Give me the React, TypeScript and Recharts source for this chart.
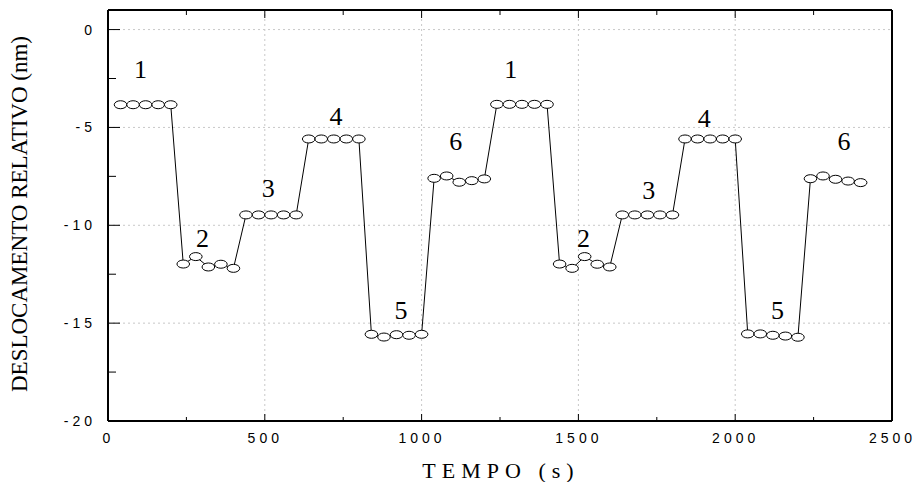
import { ComposedChart, Line, Scatter, XAxis, YAxis, ReferenceLine } from "recharts"

// time (s) of each reading
const times = [
  40, 80, 120, 160, 200, 240, 280, 320, 360, 400,
  440, 480, 520, 560, 600, 640, 680, 720, 760, 800,
  840, 880, 920, 960, 1000, 1040, 1080, 1120, 1160, 1200,
  1240, 1280, 1320, 1360, 1400, 1440, 1480, 1520, 1560, 1600,
  1640, 1680, 1720, 1760, 1800, 1840, 1880, 1920, 1960, 2000,
  2040, 2080, 2120, 2160, 2200, 2240, 2280, 2320, 2360, 2400,
]

// relative displacement (nm)
const displacement = [
  -3.84, -3.84, -3.84, -3.84, -3.84,
  -11.98, -11.6, -12.13, -11.99, -12.2,
  -9.47, -9.47, -9.47, -9.47, -9.47,
  -5.59, -5.59, -5.59, -5.59, -5.59,
  -15.57, -15.71, -15.59, -15.62, -15.57,
  -7.6, -7.48, -7.8, -7.72, -7.63,
  -3.82, -3.82, -3.82, -3.82, -3.82,
  -11.98, -12.2, -11.6, -11.99, -12.13,
  -9.47, -9.47, -9.47, -9.47, -9.47,
  -5.59, -5.59, -5.59, -5.59, -5.59,
  -15.55, -15.55, -15.62, -15.66, -15.72,
  -7.62, -7.48, -7.65, -7.74, -7.82,
]

// step number annotations
const stepText = ["1", "2", "3", "4", "5", "6", "1", "2", "3", "4", "5", "6"]
const stepX = [104, 301, 511, 727, 934, 1109, 1284, 1516, 1724, 1901, 2135, 2347]
const stepY = [-2.06, -10.66, -8.11, -4.45, -14.33, -5.73, -2.06, -10.66, -8.2, -4.53, -14.33, -5.73]

const xTicks = [0, 250, 500, 750, 1000, 1250, 1500, 1750, 2000, 2250, 2500]
const xMajor = [0, 500, 1000, 1500, 2000, 2500]
const yTicks = [-20, -17.5, -15, -12.5, -10, -7.5, -5, -2.5, 0]
const yMajor = [-20, -15, -10, -5, 0]
const xGrid = [500, 1000, 1500, 2000]
const yGrid = [-15, -10, -5, 0]

const data = times.map((t, i) => ({ t, d: displacement[i] }))
const steps = stepText.map((s, i) => ({ t: stepX[i], d: stepY[i], s }))

const SERIF = '"Liberation Serif", "Times New Roman", serif'
const SANS = '"Liberation Sans", Arial, sans-serif'
const tickFont = { fontFamily: SANS, fontSize: 14, letterSpacing: 4 }

const LeftTick = (p: any) => {
  const major = yMajor.includes(p.payload.value)
  const ax = p.x + 16
  return (
    <g>
      <line x1={ax} x2={ax + (major ? 12 : 8)} y1={p.y} y2={p.y} stroke="#000" />
      {major && (
        <text x={p.x + 4} y={p.y} textAnchor="end" dominantBaseline="central" fill="#000" style={tickFont}>
          {p.payload.value}
        </text>
      )}
    </g>
  )
}

const RightTick = (p: any) => {
  const major = yMajor.includes(p.payload.value)
  return <line x1={p.x} x2={p.x - (major ? 12 : 7)} y1={p.y} y2={p.y} stroke="#000" />
}

const BottomTick = (p: any) => {
  const major = xMajor.includes(p.payload.value)
  const ay = p.y - 12
  return (
    <g>
      <line x1={p.x} x2={p.x} y1={ay} y2={ay - (major ? 7 : 4)} stroke="#000" />
      {major && (
        <text x={p.x + 0.5} y={p.y} dy="0.71em" textAnchor="middle" fill="#000" style={tickFont}>
          {p.payload.value}
        </text>
      )}
    </g>
  )
}

const TopTick = (p: any) => {
  const major = xMajor.includes(p.payload.value)
  return <line x1={p.x} x2={p.x} y1={p.y} y2={p.y + (major ? 8 : 5)} stroke="#000" />
}

const Oval = (p: any) => (
  <ellipse key={p.index} cx={p.cx} cy={p.cy} rx={6.3} ry={4} fill="#fff" stroke="#000" strokeWidth={1} />
)

const StepLabel = (p: any) => (
  <text
    x={p.cx}
    y={p.cy}
    textAnchor="middle"
    dominantBaseline="central"
    fill="#000"
    style={{ fontFamily: SERIF, fontSize: 26 }}
  >
    {p.payload.s}
  </text>
)

export default function App() {
  return (
    <div style={{ position: "absolute", left: 0, top: 0, width: 915, height: 482, background: "#fff" }}>
      <ComposedChart width={915} height={482} data={data} margin={{ top: 5, right: 13, bottom: 11, left: 8 }}>
        {xGrid.map((v) => (
          <ReferenceLine key={"x" + v} x={v} stroke="#c8c8c8" strokeDasharray="2 3" />
        ))}
        {yGrid.map((v) => (
          <ReferenceLine key={"y" + v} y={v} stroke="#c8c8c8" strokeDasharray="2 3" />
        ))}
        <XAxis
          dataKey="t"
          type="number"
          domain={[0, 2500]}
          ticks={xTicks}
          interval={0}
          height={50}
          tickSize={0}
          tickMargin={12}
          tickLine={false}
          tick={BottomTick}
          axisLine={{ stroke: "#000", strokeWidth: 2 }}
          label={{
            content: () => (
              <text
                x={501}
                y={470}
                textAnchor="middle"
                dominantBaseline="central"
                fill="#000"
                style={{ fontFamily: SERIF, fontSize: 22, letterSpacing: 6 }}
              >
                TEMPO (s)
              </text>
            ),
          }}
        />
        <XAxis
          xAxisId="top"
          orientation="top"
          dataKey="t"
          type="number"
          domain={[0, 2500]}
          ticks={xTicks}
          interval={0}
          height={5}
          tickSize={0}
          tickMargin={0}
          tickLine={false}
          tick={TopTick}
          axisLine={{ stroke: "#000", strokeWidth: 2 }}
        />
        <YAxis
          type="number"
          domain={[-20, 1]}
          ticks={yTicks}
          interval={0}
          width={100}
          tickSize={0}
          tickMargin={16}
          tickLine={false}
          tick={LeftTick}
          axisLine={{ stroke: "#000", strokeWidth: 2 }}
          label={{
            content: () => (
              <text
                x={19}
                y={214}
                transform="rotate(-90 19 214)"
                textAnchor="middle"
                dominantBaseline="central"
                fill="#000"
                style={{ fontFamily: SERIF, fontSize: 23 }}
              >
                DESLOCAMENTO RELATIVO (nm)
              </text>
            ),
          }}
        />
        <YAxis
          yAxisId="right"
          orientation="right"
          type="number"
          domain={[-20, 1]}
          ticks={yTicks}
          interval={0}
          width={10}
          tickSize={0}
          tickMargin={0}
          tickLine={false}
          tick={RightTick}
          axisLine={{ stroke: "#000", strokeWidth: 2 }}
        />
        <Line
          dataKey="d"
          stroke="#000"
          strokeWidth={1}
          dot={Oval}
          activeDot={false}
          isAnimationActive={false}
        />
        <Scatter data={steps} dataKey="d" shape={StepLabel} isAnimationActive={false} />
      </ComposedChart>
    </div>
  )
}
